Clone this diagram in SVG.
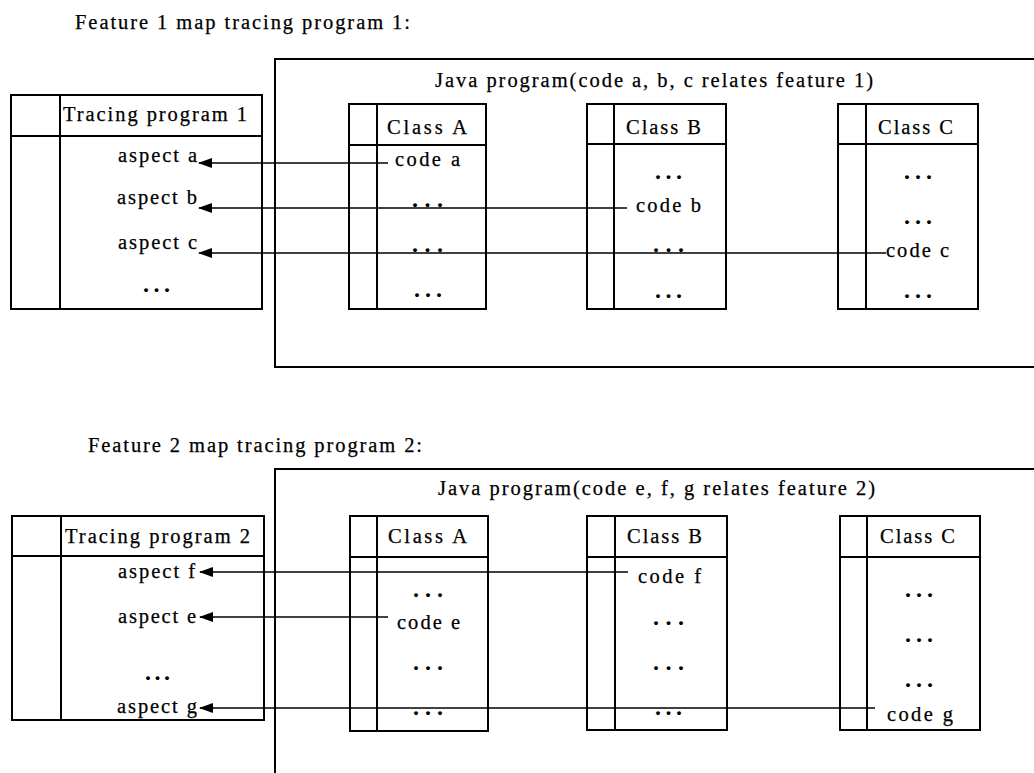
<svg xmlns="http://www.w3.org/2000/svg" width="1034" height="773" viewBox="0 0 1034 773">
  <style>
    .box { fill: none; stroke: #000; stroke-width: 2; }
    .div { stroke: #000; stroke-width: 2; }
    .t { font-family: "Liberation Serif", "Times New Roman", serif; font-size: 20.5px; fill: #000; stroke: #000; stroke-width: 0.25; }
    .dots { font-family: "Liberation Serif", "Times New Roman", serif; font-size: 24px; font-weight: bold; fill: #000; }
    .conn { stroke: #000; stroke-width: 1.7; fill: none; marker-end: url(#arrow); }
  </style>
  <defs>
    <marker id="arrow" markerUnits="userSpaceOnUse" viewBox="0 0 14 10" markerWidth="14" markerHeight="10" refX="13" refY="5" orient="auto">
      <path d="M0,0 L14,5 L0,10 Z" fill="#000"/>
    </marker>
  </defs>
  <rect width="1034" height="773" fill="#fff"/>

  <!-- ===== Feature 1 ===== -->
  <text class="t" x="75" y="29" textLength="335" lengthAdjust="spacing">Feature 1 map tracing program 1:</text>

  <g id="java1">
    <rect class="box" x="275" y="59" width="800" height="308"/>
    <text class="t" x="435" y="87" textLength="438" lengthAdjust="spacing">Java program(code a, b, c  relates feature 1)</text>
  </g>

  <g id="tracing1">
    <rect class="box" x="11" y="95" width="251" height="214"/>
    <line class="div" x1="11" y1="136" x2="262" y2="136"/>
    <line class="div" x1="60" y1="95" x2="60" y2="309"/>
    <text class="t" x="63" y="121" textLength="184" lengthAdjust="spacing">Tracing program 1</text>
    <text class="t" x="118" y="162" textLength="79" lengthAdjust="spacing">aspect a</text>
    <text class="t" x="117" y="204" textLength="80" lengthAdjust="spacing">aspect b</text>
    <text class="t" x="118" y="249" textLength="79" lengthAdjust="spacing">aspect c</text>
    <text class="dots" x="143" y="292" textLength="27" lengthAdjust="spacing">...</text>
  </g>

  <g id="classA1">
    <rect class="box" x="349" y="104" width="137" height="205"/>
    <line class="div" x1="349" y1="145" x2="486" y2="145"/>
    <line class="div" x1="377" y1="104" x2="377" y2="309"/>
    <text class="t" x="387" y="134" textLength="80" lengthAdjust="spacing">Class A</text>
    <text class="t" x="395" y="166" textLength="65" lengthAdjust="spacing">code a</text>
    <text class="dots" x="412" y="207" textLength="31" lengthAdjust="spacing">...</text>
    <text class="dots" x="412" y="252" textLength="31" lengthAdjust="spacing">...</text>
    <text class="dots" x="414" y="297" textLength="28" lengthAdjust="spacing">...</text>
  </g>

  <g id="classB1">
    <rect class="box" x="587" y="104" width="139" height="205"/>
    <line class="div" x1="587" y1="144" x2="726" y2="144"/>
    <line class="div" x1="614" y1="104" x2="614" y2="309"/>
    <text class="t" x="626" y="134" textLength="75" lengthAdjust="spacing">Class B</text>
    <text class="dots" x="655" y="179" textLength="27" lengthAdjust="spacing">...</text>
    <text class="t" x="636" y="212" textLength="65" lengthAdjust="spacing">code b</text>
    <text class="dots" x="653" y="252" textLength="31" lengthAdjust="spacing">...</text>
    <text class="dots" x="655" y="298" textLength="27" lengthAdjust="spacing">...</text>
  </g>

  <g id="classC1">
    <rect class="box" x="838" y="104" width="140" height="205"/>
    <line class="div" x1="838" y1="144" x2="978" y2="144"/>
    <line class="div" x1="866" y1="104" x2="866" y2="309"/>
    <text class="t" x="878" y="134" textLength="75" lengthAdjust="spacing">Class C</text>
    <text class="dots" x="904" y="179" textLength="28" lengthAdjust="spacing">...</text>
    <text class="dots" x="904" y="224" textLength="28" lengthAdjust="spacing">...</text>
    <text class="t" x="886" y="257" textLength="63" lengthAdjust="spacing">code c</text>
    <text class="dots" x="904" y="298" textLength="28" lengthAdjust="spacing">...</text>
  </g>

  <!-- ===== Feature 2 ===== -->
  <text class="t" x="88" y="452" textLength="334" lengthAdjust="spacing">Feature 2 map tracing program 2:</text>

  <g id="java2">
    <rect class="box" x="275" y="469" width="800" height="340"/>
    <text class="t" x="438" y="495" textLength="437" lengthAdjust="spacing">Java program(code e, f,  g  relates feature 2)</text>
  </g>

  <g id="tracing2">
    <rect class="box" x="12" y="516" width="252" height="204"/>
    <line class="div" x1="12" y1="556" x2="264" y2="556"/>
    <line class="div" x1="61" y1="516" x2="61" y2="720"/>
    <text class="t" x="65" y="543" textLength="185" lengthAdjust="spacing">Tracing program 2</text>
    <text class="t" x="118" y="578" textLength="77" lengthAdjust="spacing">aspect f</text>
    <text class="t" x="118" y="623" textLength="78" lengthAdjust="spacing">aspect e</text>
    <text class="dots" x="145" y="680" textLength="25" lengthAdjust="spacing">...</text>
    <text class="t" x="117" y="713" textLength="80" lengthAdjust="spacing">aspect g</text>
  </g>

  <g id="classA2">
    <rect class="box" x="350" y="516" width="138" height="215"/>
    <line class="div" x1="350" y1="557" x2="488" y2="557"/>
    <line class="div" x1="377" y1="516" x2="377" y2="731"/>
    <text class="t" x="388" y="543" textLength="79" lengthAdjust="spacing">Class A</text>
    <text class="dots" x="413" y="597" textLength="30" lengthAdjust="spacing">...</text>
    <text class="t" x="397" y="629" textLength="63" lengthAdjust="spacing">code e</text>
    <text class="dots" x="413" y="670" textLength="30" lengthAdjust="spacing">...</text>
    <text class="dots" x="413" y="715" textLength="30" lengthAdjust="spacing">...</text>
  </g>

  <g id="classB2">
    <rect class="box" x="587" y="516" width="140" height="214"/>
    <line class="div" x1="587" y1="557" x2="727" y2="557"/>
    <line class="div" x1="615" y1="516" x2="615" y2="730"/>
    <text class="t" x="627" y="543" textLength="75" lengthAdjust="spacing">Class B</text>
    <text class="t" x="638" y="583" textLength="63" lengthAdjust="spacing">code f</text>
    <text class="dots" x="653" y="625" textLength="31" lengthAdjust="spacing">...</text>
    <text class="dots" x="653" y="670" textLength="31" lengthAdjust="spacing">...</text>
    <text class="dots" x="655" y="715" textLength="27" lengthAdjust="spacing">...</text>
  </g>

  <g id="classC2">
    <rect class="box" x="840" y="516" width="140" height="214"/>
    <line class="div" x1="840" y1="557" x2="980" y2="557"/>
    <line class="div" x1="867" y1="516" x2="867" y2="730"/>
    <text class="t" x="880" y="543" textLength="75" lengthAdjust="spacing">Class C</text>
    <text class="dots" x="905" y="597" textLength="28" lengthAdjust="spacing">...</text>
    <text class="dots" x="905" y="642" textLength="28" lengthAdjust="spacing">...</text>
    <text class="dots" x="905" y="687" textLength="28" lengthAdjust="spacing">...</text>
    <text class="t" x="887" y="721" textLength="66" lengthAdjust="spacing">code g</text>
  </g>

  <!-- mapping connectors: code fragment -> aspect -->
  <g id="connectors">
    <line class="conn" x1="388" y1="163" x2="199" y2="163"/>
    <line class="conn" x1="627" y1="208" x2="199" y2="208"/>
    <line class="conn" x1="886" y1="253" x2="199" y2="253"/>
    <line class="conn" x1="628" y1="572" x2="200" y2="572"/>
    <line class="conn" x1="388" y1="617" x2="200" y2="617"/>
    <line class="conn" x1="875" y1="708" x2="200" y2="708"/>
  </g>
</svg>
